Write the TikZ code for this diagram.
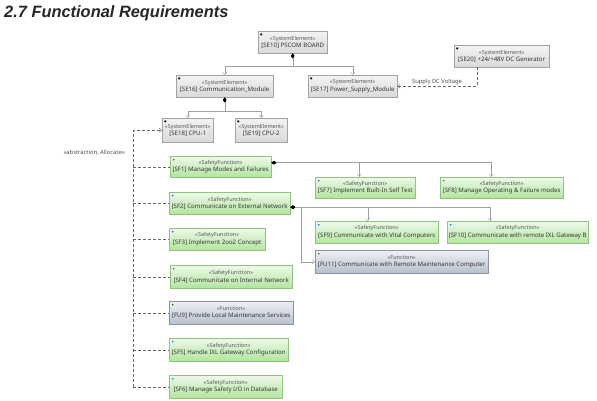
\documentclass[tikz,border=0pt]{standalone}
\usepackage{fontspec}
\setmainfont{Noto Sans}
\newfontfamily\titlefont{Liberation Sans}
\usepackage{tikz}
\usetikzlibrary{arrows.meta}

\definecolor{seTop}{HTML}{F3F3F3}
\definecolor{seBot}{HTML}{D9D9D9}
\definecolor{seLine}{HTML}{A3A3A3}
\definecolor{sfTop}{HTML}{EEF9EA}
\definecolor{sfBot}{HTML}{B2E59E}
\definecolor{sfLine}{HTML}{8EC47E}
\definecolor{fuTop}{HTML}{EEF0F5}
\definecolor{fuBot}{HTML}{B7BFCE}
\definecolor{fuLine}{HTML}{8A92A3}

\newcommand{\stype}[1]{{\fontsize{5.5}{6.5}\selectfont\color{black!65}«#1»}}

\begin{document}
\begin{tikzpicture}[x=1pt,y=-1pt,
    elem/.style={anchor=north west, draw=seLine, align=center, inner xsep=0.5pt, inner ysep=1pt,
        font=\fontsize{6.1}{7.5}\selectfont, text=black!80},
    sysbox/.style={elem, top color=seTop, bottom color=seBot,
        path picture={\draw[black, line width=0.4pt]
            ([shift={(3pt,-2pt)}]path picture bounding box.north west) -- ++(0pt,-2.4pt)
            ([shift={(2pt,-2.6pt)}]path picture bounding box.north west) -- ++(2pt,-1.2pt)
            ([shift={(2pt,-3.8pt)}]path picture bounding box.north west) -- ++(2pt,1.2pt);}},
    safebox/.style={elem, draw=sfLine, top color=sfTop, bottom color=sfBot,
        path picture={\fill[blue!60!cyan]
            ([shift={(3.5pt,-3.5pt)}]path picture bounding box.north west) circle (0.9pt);}},
    funcbox/.style={elem, draw=fuLine, top color=fuTop, bottom color=fuBot,
        path picture={\fill[green!40!black]
            ([shift={(3.5pt,-3.5pt)}]path picture bounding box.north west) circle (0.8pt);}},
    part/.style={draw=gray!75, thin,
        {Diamond[color=black,length=5pt,width=3.5pt]}-{Straight Barb[length=2.5pt,width=4pt]}},
    dep/.style={draw=black!60, densely dashed, thin},
    lbl/.style={font=\fontsize{5.8}{7}\selectfont, text=black!70, inner sep=1pt}
]
    \useasboundingbox (0,0) rectangle (597,401);

    % Title
    \node[anchor=base west, inner sep=0pt, text=black!85,
        font=\titlefont\bfseries\itshape\fontsize{16.4}{18}\selectfont] (title) at (4,18) {2.7 Functional Requirements};

    % System elements
    \node[sysbox, minimum width=69, minimum height=22] (SE10) at (258,31) {\stype{SystemElement}\\{}[SE10] PSCOM BOARD};
    \node[sysbox, minimum width=95, minimum height=22] (SE20) at (454,45) {\stype{SystemElement}\\{}[SE20] +24/+48V DC Generator};
    \node[sysbox, minimum width=97, minimum height=22] (SE16) at (176,75) {\stype{SystemElement}\\{}[SE16] Communication\_Module};
    \node[sysbox, minimum width=89, minimum height=22] (SE17) at (308,75) {\stype{SystemElement}\\{}[SE17] Power\_Supply\_Module};
    \node[sysbox, minimum width=51, minimum height=24] (SE18) at (162,118) {\stype{SystemElement}\\{}[SE18] CPU-1};
    \node[sysbox, minimum width=52, minimum height=24] (SE19) at (235,118) {\stype{SystemElement}\\{}[SE19] CPU-2};

    % Functions, left column
    \node[safebox, minimum width=101, minimum height=21] (SF1) at (170,156) {\stype{SafetyFunction}\\{}[SF1] Manage Modes and Failures};
    \node[safebox, minimum width=121, minimum height=22] (SF2) at (169,192) {\stype{SafetyFunction}\\{}[SF2] Communicate on External Network};
    \node[safebox, minimum width=96, minimum height=22] (SF3) at (169,228) {\stype{SafetyFunction}\\{}[SF3] Implement 2oo2 Concept};
    \node[safebox, minimum width=122, minimum height=23] (SF4) at (170,265) {\stype{SafetyFunction}\\{}[SF4] Communicate on Internal Network};
    \node[funcbox, minimum width=124, minimum height=23] (FU9) at (169,301) {\stype{Function}\\{}[FU9] Provide Local Maintenance Services};
    \node[safebox, minimum width=119, minimum height=23] (SF5) at (169,338) {\stype{SafetyFunction}\\{}[SF5] Handle IXL Gateway Configuration};
    \node[safebox, minimum width=113, minimum height=23] (SF6) at (169,375) {\stype{SafetyFunction}\\{}[SF6] Manage Safety I/O in Database};

    % Functions, right side
    \node[safebox, minimum width=100, minimum height=21] (SF7) at (315,177) {\stype{SafetyFunction}\\{}[SF7] Implement Built-In Self Test};
    \node[safebox, minimum width=123, minimum height=21] (SF8) at (440,177) {\stype{SafetyFunction}\\{}[SF8] Manage Operating \& Failure modes};
    \node[safebox, minimum width=123, minimum height=22] (SF9) at (315,221) {\stype{SafetyFunction}\\{}[SF9] Communicate with Vital Computers};
    \node[safebox, minimum width=141, minimum height=22] (SF10) at (447,221) {\stype{SafetyFunction}\\{}[SF10] Communicate with remote IXL Gateway B};
    \node[funcbox, minimum width=173, minimum height=23] (FU11) at (315,250) {\stype{Function}\\{}[FU11] Communicate with Remote Maintenance Computer};

    % Board parts
    \draw[part] (SE10.south) -- ++(0,13) -| (SE16.north);
    \draw[part] (SE10.south) -- ++(0,13) -| (SE17.north);
    \draw[part] (SE16.south) -- ++(0,14) -| (SE18.north);
    \draw[part] (SE16.south) -- ++(0,14) -| (SE19.north);

    % Supply
    \draw[dep, -{Straight Barb[length=2.5pt,width=4pt]}] ([xshift=-25pt]SE20.south) |- node[pos=0.75, above, lbl] (supLbl) {Supply DC Voltage} (SE17.east);

    % Function parts
    \draw[part] ([yshift=4pt]SF1.east) -| ([xshift=-6pt]SF7.north);
    \draw[part] ([yshift=4pt]SF1.east) -| (491,0 |- SF8.north);
    \draw[part] ([yshift=-4pt]SF2.east) -| ([xshift=-9pt]SF9.north);
    \draw[part] ([yshift=-4pt]SF2.east) -| (490,0 |- SF10.north);
    \draw[part] ([yshift=-4pt]SF2.east) -- ++(11,0) |- (FU11.west);

    % Allocation to CPU-1
    \coordinate (busTop) at (133,0 |- SE18.west);
    \coordinate (busBot) at (133,0 |- SF6.west);
    \draw[dep, -{Straight Barb[length=2.5pt,width=4pt]}] (busBot) -- (busTop) -- (SE18.west);
    \foreach \n in {SF1,SF2,SF3,SF4,FU9,SF5,SF6}
        \draw[dep] (133,0 |- \n.west) -- (\n.west);
    \node[lbl, anchor=east] (absLbl) at (126,153) {«abstraction, Allocate»};
\end{tikzpicture}
\end{document}
